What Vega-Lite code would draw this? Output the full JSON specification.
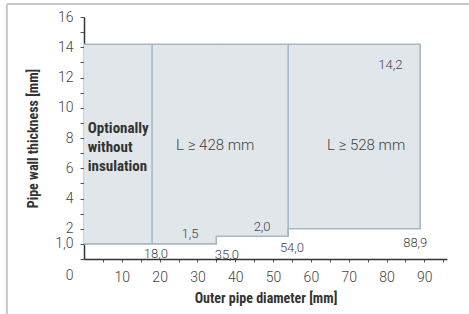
{
  "$schema": "https://vega.github.io/schema/vega-lite/v6.json",
  "width": 363,
  "height": 242,
  "autosize": {"type": "none"},
  "padding": {"left": 84, "top": 17, "right": 22, "bottom": 55},
  "background": "white",
  "config": {
    "view": {"stroke": null},
    "axis": {"grid": false, "domainColor": "#333333", "domainWidth": 1.5, "tickColor": "#555555", "labelColor": "#444444", "labelFont": "Roboto", "labelFontWeight": 300, "labelFontSize": 14, "titleFont": "Roboto Condensed, DejaVu Sans Condensed, Liberation Sans Narrow, Arial Narrow, Roboto", "titleFontWeight": "bold", "titleFontSize": 14, "titleColor": "#333333"}
  },
  "datasets": {
    "regions": [
      {"x": 0, "x2": 88.9, "y": 2.0, "y2": 14.2},
      {"x": 0, "x2": 54, "y": 1.5, "y2": 14.2},
      {"x": 0, "x2": 35, "y": 1.0, "y2": 14.2}
    ],
    "outline": [
      {"ord": 1, "x": 0, "y": 14.2},
      {"ord": 2, "x": 88.9, "y": 14.2},
      {"ord": 3, "x": 88.9, "y": 2.0},
      {"ord": 4, "x": 54, "y": 2.0},
      {"ord": 5, "x": 54, "y": 1.5},
      {"ord": 6, "x": 35, "y": 1.5},
      {"ord": 7, "x": 35, "y": 1.0},
      {"ord": 8, "x": 0, "y": 1.0}
    ],
    "dividers": [
      {"x": 18, "y": 1.0, "y2": 14.2},
      {"x": 54, "y": 1.5, "y2": 14.2}
    ],
    "numbers": [
      {"t": "14,2", "x": 81, "y": 12.8},
      {"t": "1,5", "x": 28, "y": 1.65},
      {"t": "2,0", "x": 47.1, "y": 2.1},
      {"t": "18,0", "x": 19, "y": 0.33},
      {"t": "35,0", "x": 37.8, "y": 0.26},
      {"t": "54,0", "x": 55, "y": 0.73},
      {"t": "88,9", "x": 87.6, "y": 1.06}
    ],
    "lengths": [
      {"t": "L ≥ 428 mm", "x": 34.7, "y": 7.54},
      {"t": "L ≥ 528 mm", "x": 74.6, "y": 7.54}
    ],
    "note": [
      {"t": "Optionally\nwithout\ninsulation", "x": 1.0, "y": 8.66}
    ],
    "frameTop": [{"x": -20.4, "x2": 110, "y": 16.86}],
    "frameLeft": [{"x": -20.4, "y": 16.86, "y2": -5}]
  },
  "encoding": {
    "x": {"field": "x", "type": "quantitative", "scale": {"domain": [0, 96], "nice": false, "zero": false},
      "axis": {"values": [5,10,15,20,25,30,35,40,45,50,55,60,65,70,75,80,85,90,95], "tickSize": 3, "labelPadding": 8, "labelOverlap": false, "labelFlush": false, "title": "Outer pipe diameter [mm]", "titlePadding": 7,
        "labelExpr": "datum.value % 10 == 0 ? datum.label : ''"}},
    "y": {"field": "y", "type": "quantitative", "scale": {"domain": [0, 16], "nice": false},
      "axis": {"values": [0,1,2,3,4,5,6,7,8,9,10,11,12,13,14,15,16], "tickSize": 4, "labelPadding": 7, "labelOverlap": false, "labelFlush": false, "title": "Pipe wall thickness [mm]", "titlePadding": 14,
        "labelExpr": "datum.value == 1 ? '1,0' : (datum.value % 2 == 0 ? datum.label : '')",
        "labelOffset": {"condition": {"test": "datum.value == 0", "value": 16}, "value": 0}}}
  },
  "layer": [
    {
      "data": {"name": "regions"},
      "mark": {"type": "rect", "fill": "#e1e6ea", "strokeWidth": 0},
      "encoding": {"x2": {"field": "x2"}, "y2": {"field": "y2"}}
    },
    {
      "data": {"name": "outline"},
      "mark": {"type": "line", "color": "#a7b8c4", "strokeWidth": 1.6},
      "encoding": {"order": {"field": "ord"}}
    },
    {
      "data": {"name": "dividers"},
      "mark": {"type": "rule", "color": "#a7b8c4", "strokeWidth": 1.6},
      "encoding": {"y2": {"field": "y2"}}
    },
    {
      "data": {"name": "numbers"},
      "mark": {"type": "text", "font": "Roboto", "fontWeight": 300, "fontSize": 13, "color": "#444444", "align": "center", "baseline": "middle"},
      "encoding": {"text": {"field": "t"}}
    },
    {
      "data": {"name": "lengths"},
      "mark": {"type": "text", "font": "Roboto", "fontWeight": 300, "fontSize": 15, "color": "#444444", "align": "center", "baseline": "middle"},
      "encoding": {"text": {"field": "t"}}
    },
    {
      "data": {"name": "note"},
      "mark": {"type": "text", "font": "Roboto Condensed, DejaVu Sans Condensed, Liberation Sans Narrow, Arial Narrow, Roboto", "fontWeight": "bold", "fontSize": 15, "color": "#333333", "align": "left", "baseline": "middle", "lineBreak": "\n", "lineHeight": 19},
      "encoding": {"text": {"field": "t"}}
    },
    {
      "data": {"name": "frameTop"},
      "mark": {"type": "rule", "color": "#c8c8c8", "strokeWidth": 2, "clip": false},
      "encoding": {"x2": {"field": "x2"}}
    },
    {
      "data": {"name": "frameLeft"},
      "mark": {"type": "rule", "color": "#c8c8c8", "strokeWidth": 2, "clip": false},
      "encoding": {"y2": {"field": "y2"}}
    }
  ]
}
